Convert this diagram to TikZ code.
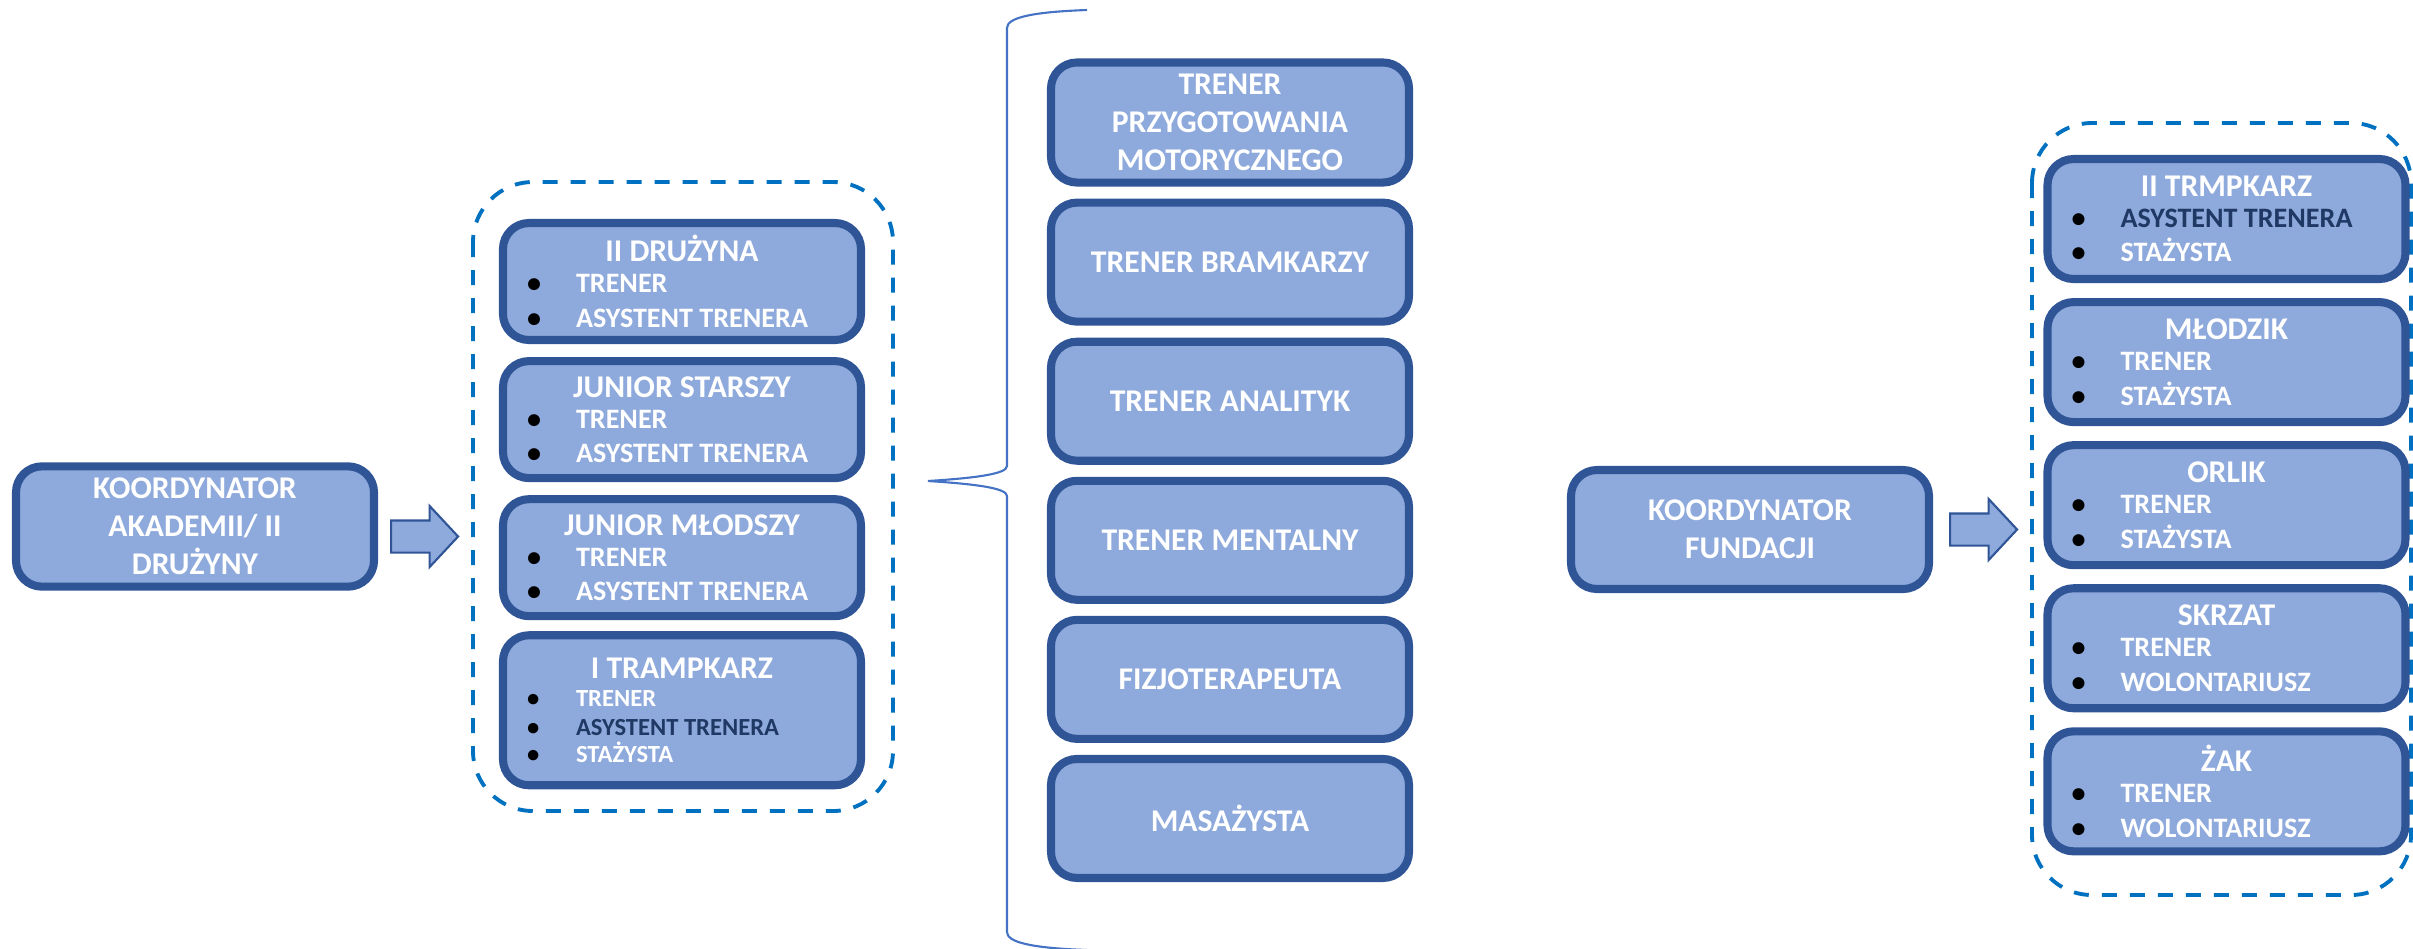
\documentclass[tikz,border=0pt]{standalone}
\usepackage{fontspec}
\setmainfont{Carlito}[BoldFont={Carlito Bold}]
\usepackage{tikz}
\usetikzlibrary{shapes.arrows, positioning}
\definecolor{boxfill}{RGB}{142,169,219}
\definecolor{boxline}{RGB}{47,85,151}
\definecolor{frameblue}{RGB}{0,112,192}
\definecolor{braceblue}{RGB}{68,114,196}
\definecolor{darknavy}{RGB}{31,56,100}

\newcommand{\cardhead}[1]{\makebox[35.8mm]{#1}}
\newcommand{\role}[1]{\makebox[7.3mm][l]{\hspace{2.4mm}\textcolor{black}{\textbullet}}#1}

\begin{document}
\begin{tikzpicture}[
        x=0.1mm, y=-0.1mm,
        node distance=1.2mm,
        card/.style={rectangle, draw=boxline, fill=boxfill, line width=2.3pt, rounded corners=2.6mm, minimum width=35.8mm, minimum height=11.9mm, align=center, text=white, font=\bfseries\fontsize{9}{10.8}\selectfont},
        listcard/.style={card, text width=35.8mm, inner xsep=0pt, align=flush left, minimum height=11.7mm},
        group/.style={draw=frameblue, line width=1.1pt, dash pattern=on 1.5mm off 1.3mm, rounded corners=6mm},
        blockarrow/.style={single arrow, draw=boxline, fill=boxfill, line width=0.6pt, minimum height=6.7mm, minimum width=0pt, inner xsep=0pt, inner ysep=1.5mm, single arrow head extend=1.45mm, single arrow tip angle=94}
    ]
        \useasboundingbox (0,0) rectangle (2413,948);

        \draw[group] (473,182) rectangle (893,811);
        \draw[group] (2032,123) rectangle (2411,895);

        \node[card] (akademia) at (195,526.5) {KOORDYNATOR\\AKADEMII/ II\\DRUŻYNY};
        \node[blockarrow, right=1.2mm of akademia, yshift=-1mm] (strzalka1) {};

        \node[listcard] (druzyna2) at (682,281.5) {\cardhead{II DRUŻYNA}\\[-1pt] \fontsize{8}{9.8}\selectfont\role{TRENER}\\[-1pt] \role{ASYSTENT TRENERA}};
        \node[listcard, below=1.3mm of druzyna2] (juniorst) {\cardhead{JUNIOR STARSZY}\\[-1pt] \fontsize{8}{9.8}\selectfont\role{TRENER}\\[-1pt] \role{ASYSTENT TRENERA}};
        \node[listcard, below=1.3mm of juniorst] (juniorml) {\cardhead{JUNIOR MŁODSZY}\\[-1pt] \fontsize{8}{9.8}\selectfont\role{TRENER}\\[-1pt] \role{ASYSTENT TRENERA}};
        \node[listcard, below=1.1mm of juniorml, minimum height=15mm] (trampkarz1) {\cardhead{I TRAMPKARZ}\\[-0.5pt] \fontsize{7}{8.6}\selectfont\role{TRENER}\\[-0.5pt] \role{\textcolor{darknavy}{ASYSTENT TRENERA}}\\[-3pt] \role{STAŻYSTA}};

        \draw[braceblue, line width=0.6pt] (1087,10) .. controls (1030,12) and (1007,18) .. (1007,28) -- (1007,466) .. controls (1007,474) and (975,478) .. (928,481) .. controls (975,484) and (1007,488) .. (1007,496) -- (1007,932) .. controls (1007,942) and (1030,948) .. (1087,950);

        \node[card] (motoryka) at (1230,122.5) {TRENER\\PRZYGOTOWANIA\\MOTORYCZNEGO};
        \node[card, below=of motoryka] (bramkarze) {TRENER BRAMKARZY};
        \node[card, below=of bramkarze] (analityk) {TRENER ANALITYK};
        \node[card, below=of analityk] (mentalny) {TRENER MENTALNY};
        \node[card, below=of mentalny] (fizjo) {FIZJOTERAPEUTA};
        \node[card, below=of fizjo] (masaz) {MASAŻYSTA};

        \node[card] (fundacja) at (1750,529.5) {KOORDYNATOR\\FUNDACJI};
        \node[blockarrow, right=1.6mm of fundacja] (strzalka2) {};

        \node[listcard, minimum height=12mm] (trampkarz2) at (2226.5,219) {\cardhead{II TRMPKARZ}\\[-1pt] \fontsize{8}{9.8}\selectfont\role{\textcolor{darknavy}{ASYSTENT TRENERA}}\\[-1pt] \role{STAŻYSTA}};
        \node[listcard, minimum height=12mm, below=1.5mm of trampkarz2] (mlodzik) {\cardhead{MŁODZIK}\\[-1pt] \fontsize{8}{9.8}\selectfont\role{TRENER}\\[-1pt] \role{STAŻYSTA}};
        \node[listcard, minimum height=12mm, below=1.5mm of mlodzik] (orlik) {\cardhead{ORLIK}\\[-1pt] \fontsize{8}{9.8}\selectfont\role{TRENER}\\[-1pt] \role{STAŻYSTA}};
        \node[listcard, minimum height=12mm, below=1.5mm of orlik] (skrzat) {\cardhead{SKRZAT}\\[-1pt] \fontsize{8}{9.8}\selectfont\role{TRENER}\\[-1pt] \role{WOLONTARIUSZ}};
        \node[listcard, minimum height=12mm, below=1.5mm of skrzat] (zak) {\cardhead{ŻAK}\\[-1pt] \fontsize{8}{9.8}\selectfont\role{TRENER}\\[-1pt] \role{WOLONTARIUSZ}};
\end{tikzpicture}
\end{document}
